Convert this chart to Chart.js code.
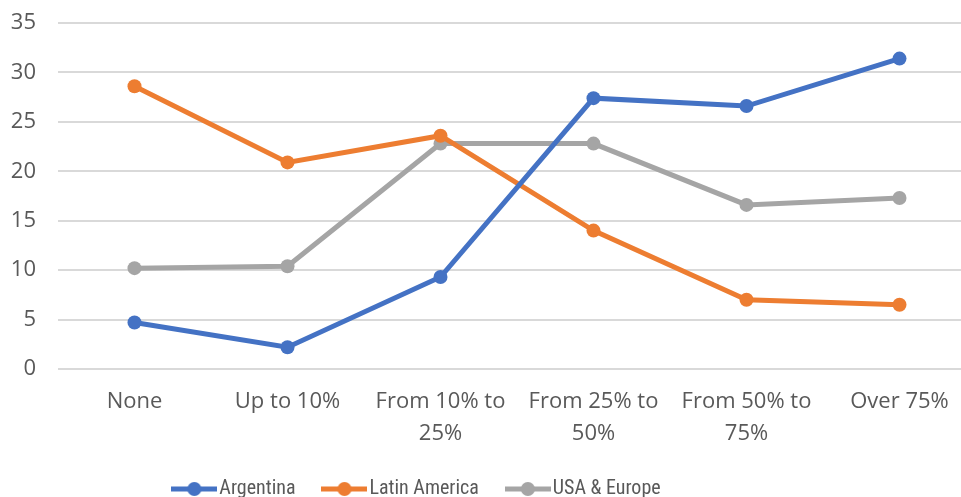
<!DOCTYPE html>
<html lang="en">
<head>
  <meta charset="UTF-8">
  <title>Share by category</title>
  <script src="https://cdn.jsdelivr.net/npm/chart.js"></script>
  <style>
    html, body { margin: 0; padding: 0; background: #fff; overflow: hidden; }
  </style>
</head>
<body>
  <canvas id="chart" width="983" height="497"></canvas>

  <script>
    // categories (two-line labels as in the original)
    const categories = [
      'None',
      'Up to 10%',
      ['From 10% to', '25%'],
      ['From 25% to', '50%'],
      ['From 50% to', '75%'],
      'Over 75%'
    ];

    // series values
    const argentina = [4.7, 2.2, 9.3, 27.4, 26.6, 31.4];
    const latinAmerica = [28.6, 20.9, 23.6, 14.0, 7.0, 6.5];
    const usaEurope = [10.2, 10.4, 22.8, 22.8, 16.6, 17.3];

    const seriesNames = ['Argentina', 'Latin America', 'USA & Europe'];
    const colors = ['#4472C4', '#ED7D31', '#A5A5A5'];

    // legend marker: line with a dot in the middle
    function legendMarker(color) {
      const c = document.createElement('canvas');
      c.width = 46; c.height = 16;
      const g = c.getContext('2d');
      g.strokeStyle = color;
      g.lineWidth = 5;
      g.beginPath();
      g.moveTo(0, 8); g.lineTo(46, 8);
      g.stroke();
      g.fillStyle = color;
      g.beginPath();
      g.arc(23, 8, 7, 0, Math.PI * 2);
      g.fill();
      return c;
    }

    // legend: trim the unused space below it and shift it left like the original
    const legendFit = {
      id: 'legendFit',
      beforeInit(chart) {
        const fit = chart.legend.fit;
        chart.legend.fit = function () {
          fit.call(this);
          this.height -= 12;
        };
      },
      afterLayout(chart) {
        chart.legend.right -= 143;
      }
    };

    const makeSet = (label, data, color) => ({
      label: label,
      data: data,
      borderColor: color,
      backgroundColor: color,
      borderWidth: 5,
      pointRadius: 7,
      pointHoverRadius: 7,
      pointBackgroundColor: color,
      pointBorderWidth: 0,
      tension: 0
    });

    const tickFont = { family: 'Open Sans', size: 22, lineHeight: 1.45 };

    const config = {
      type: 'line',
      data: {
        labels: categories,
        datasets: [
          makeSet(seriesNames[0], argentina, colors[0]),
          makeSet(seriesNames[1], latinAmerica, colors[1]),
          makeSet(seriesNames[2], usaEurope, colors[2])
        ]
      },
      options: {
        responsive: false,
        animation: false,
        layout: { padding: { top: 23, left: 0, right: 0, bottom: 0 } },
        plugins: {
          legend: {
            position: 'bottom',
            labels: {
              usePointStyle: true,
              pointStyleWidth: 30,
              boxHeight: 16,
              color: '#595959',
              font: { family: 'Liberation Sans Narrow, Roboto Condensed, Noto Sans', size: 20 },
              padding: 34,
              generateLabels: chart => chart.data.datasets.map((ds, i) => ({
                text: ds.label,
                fillStyle: ds.borderColor,
                strokeStyle: ds.borderColor,
                fontColor: '#595959',
                pointStyle: legendMarker(ds.borderColor),
                datasetIndex: i,
                hidden: false
              }))
            }
          },
          tooltip: { enabled: false }
        },
        scales: {
          x: {
            offset: true,
            grid: { display: false },
            border: { display: false },
            afterFit: scale => { scale.height = 76; },
            ticks: {
              color: '#595959',
              font: tickFont,
              maxRotation: 0,
              autoSkip: false,
              padding: 9
            }
          },
          y: {
            min: 0,
            max: 35,
            grid: { color: '#D9D9D9', lineWidth: 2, drawTicks: false },
            border: { display: false },
            afterFit: scale => { scale.paddingTop = 0; scale.width = 58; },
            ticks: {
              stepSize: 5,
              color: '#595959',
              font: tickFont,
              padding: 22
            }
          }
        }
      },
      plugins: [legendFit]
    };

    new Chart(document.getElementById('chart').getContext('2d'), config);
  </script>
</body>
</html>
